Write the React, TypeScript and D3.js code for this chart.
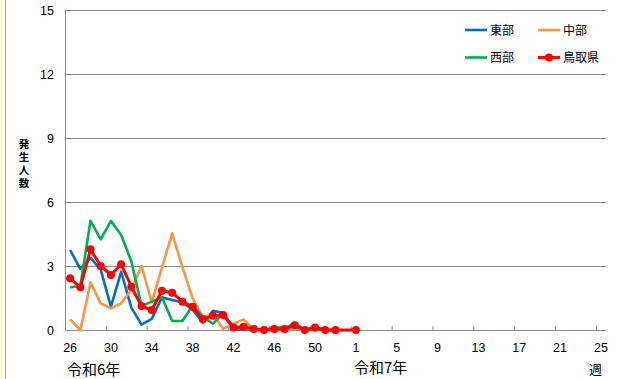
import React from "react";
import * as d3 from "d3";

const weeks: string[] = [
  "26","27","28","29","30","31","32","33","34","35","36","37","38","39","40","41","42","43","44","45","46","47","48","49","50","51","52","53",
  "1","2","3","4","5","6","7","8","9","10","11","12","13","14","15","16","17","18","19","20","21","22","23","24","25",
];

const tobu: (number | null)[] = [3.75, 2.87, 3.38, 2.83, 1.1, 2.73, 1.05, 0.25, 0.52, 1.53, 1.41, 1.3, 0.95, 0.35, 0.9, 0.8, 0.03, 0, 0, 0, 0.05, 0.05, 0.33, 0, 0, 0, 0];
const chubu: (number | null)[] = [0.5, 0, 2.22, 1.25, 1.02, 1.25, 1.88, 3.0, 1.3, 2.93, 4.53, 2.95, 1.5, 0.6, 0.75, 0.05, 0.3, 0.5, 0.05, 0, 0, 0, 0.1, 0, 0.15, 0, 0];
const seibu: (number | null)[] = [2.0, 2.06, 5.12, 4.25, 5.12, 4.45, 3.22, 1.12, 1.33, 1.53, 0.42, 0.42, 1.15, 0.62, 0.3, 0.78, 0.1, 0.05, 0, 0, 0.12, 0.12, 0.2, 0, 0.05, 0, 0];
const tottori: (number | null)[] = [2.42, 2.0, 3.78, 3.0, 2.58, 3.08, 2.03, 1.12, 0.94, 1.84, 1.75, 1.33, 1.09, 0.5, 0.67, 0.7, 0.12, 0.15, 0.05, 0, 0.05, 0.05, 0.22, 0, 0.12, 0, 0, null, 0];

const seriesNames = ["東部", "中部", "西部", "鳥取県"];
const seriesColors = ["#0070C0", "#F79646", "#00B050", "#FF0000"];
const yTicks = [0, 3, 6, 9, 12, 15];
const yTitle = "発生人数";

const W = 619;
const H = 379;
const left = 65, right = 606, top = 10, bottom = 330;
const latin = "'Liberation Sans', Arial, sans-serif";
const cjk = "'Noto Sans CJK JP', sans-serif";

export default function App() {
  const x = d3.scaleBand<number>().domain(weeks.map((_, i) => i)).range([left, right]).paddingInner(0).paddingOuter(0);
  const bw = x.bandwidth();
  const cx = (i: number) => (x(i) as number) + bw / 2;
  const y = d3.scaleLinear().domain([0, 15]).range([bottom, top]);

  const allSeries = [tobu, chubu, seibu, tottori];
  const lineGen = d3
    .line<{ i: number; v: number }>()
    .x((d) => cx(d.i))
    .y((d) => y(d.v));

  const pts = (arr: (number | null)[]) =>
    arr.map((v, i) => ({ i, v })).filter((d) => d.v !== null) as { i: number; v: number }[];

  const tickIdx = weeks.map((_, i) => i).filter((i) => i % 4 === 0);

  return (
    <svg width={W} height={H} style={{ position: "absolute", left: 0, top: 0, background: "#fff" }}>
      <rect x={0} y={0} width={5} height={H} fill="#FFFFE0" />
      <line x1={5.5} x2={5.5} y1={0} y2={H} stroke="#A0A0A0" strokeWidth={1} />

      {yTicks.map((t) => (
        <g key={t}>
          {t > 0 && (
            <line x1={left} x2={right} y1={y(t) + 0.5} y2={y(t) + 0.5} stroke="#8C8C8C" strokeWidth={1} />
          )}
          <text x={54} y={y(t) + 4.5} textAnchor="end" fontFamily={latin} fontSize={12.5} fill="#000">
            {t}
          </text>
        </g>
      ))}
      <line x1={left + 0.5} x2={left + 0.5} y1={top} y2={bottom} stroke="#8C8C8C" strokeWidth={1} />
      <line x1={left} x2={right} y1={bottom + 0.5} y2={bottom + 0.5} stroke="#8C8C8C" strokeWidth={1} />

      {tickIdx.map((i) => (
        <g key={i}>
          <line x1={(x(i) as number) + 0.5} x2={(x(i) as number) + 0.5} y1={bottom - 4} y2={bottom} stroke="#8C8C8C" />
          <text x={cx(i)} y={352} textAnchor="middle" fontFamily={latin} fontSize={12.5} fill="#000">
            {weeks[i]}
          </text>
        </g>
      ))}

      {allSeries.map((arr, k) => (
        <path
          key={k}
          d={lineGen(pts(arr)) || ""}
          fill="none"
          stroke={seriesColors[k]}
          strokeWidth={k === 3 ? 3 : 2.6}
          strokeLinejoin="round"
        />
      ))}
      {pts(tottori).map((d) => (
        <circle key={d.i} cx={cx(d.i)} cy={y(d.v)} r={4} fill={seriesColors[3]} />
      ))}

      <text
        x={24}
        y={139}
        fontFamily={cjk}
        fontWeight="bold"
        fontSize={10.5}
        fill="#000"
        letterSpacing={2.5}
        style={{ writingMode: "vertical-rl", textOrientation: "upright" } as React.CSSProperties}
      >
        {yTitle}
      </text>

      {seriesNames.map((n, k) => {
        const col = k % 2;
        const row = Math.floor(k / 2);
        const lx = 465 + col * 73;
        const ly = 30 + row * 27.5;
        return (
          <g key={n}>
            <line x1={lx} x2={lx + 22} y1={ly} y2={ly} stroke={seriesColors[k]} strokeWidth={k === 3 ? 3 : 2.6} />
            {k === 3 && <circle cx={lx + 11} cy={ly} r={4} fill={seriesColors[k]} />}
            <text x={lx + 25} y={ly + 4.5} fontFamily={cjk} fontSize={12} fill="#000">
              {n}
            </text>
          </g>
        );
      })}

      <text x={67} y={375} fontFamily={cjk} fontSize={15} fill="#000">令和6年</text>
      <text x={354} y={373} fontFamily={cjk} fontSize={15} fill="#000">令和7年</text>
      <text x={589} y={374} fontFamily={cjk} fontSize={13} fill="#000">週</text>
    </svg>
  );
}
